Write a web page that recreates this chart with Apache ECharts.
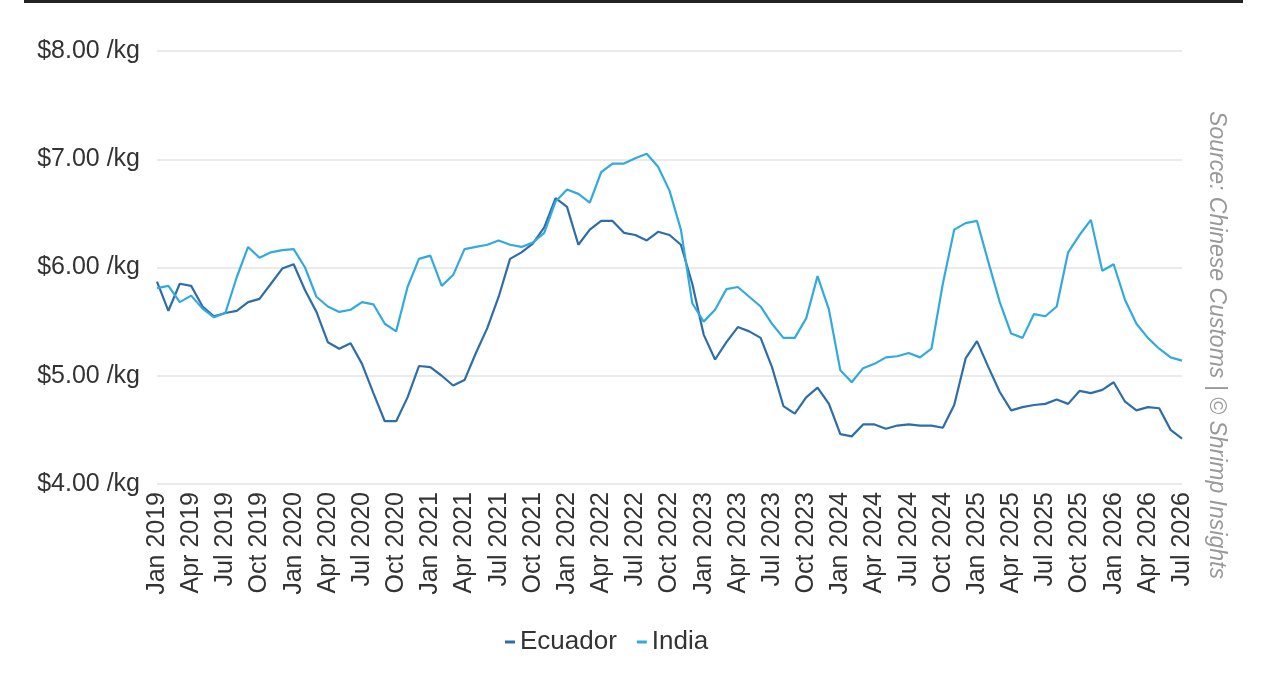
<!DOCTYPE html>
<html>
<head>
<meta charset="utf-8">
<script src="https://cdn.jsdelivr.net/npm/echarts@6/dist/echarts.min.js"></script>
<style>
  html, body { margin: 0; padding: 0; background: #fff; }
  #chart { width: 1262px; height: 682px; }
</style>
</head>
<body>
<div id="chart"></div>
<script>
// month labels Jan 2019 .. Jul 2026
var monthNames = ["Jan", "Feb", "Mar", "Apr", "May", "Jun", "Jul", "Aug", "Sep", "Oct", "Nov", "Dec"];
var categories = [];
for (var y = 2019; y <= 2026; y++) {
  for (var m = 0; m < 12; m++) {
    if (y === 2026 && m > 6) break;
    categories.push(monthNames[m] + " " + y);
  }
}

// price per kg
var ecuador = [
  5.87, 5.60, 5.85, 5.83, 5.64, 5.55, 5.58, 5.60, 5.68, 5.71, 5.85, 5.99,
  6.03, 5.79, 5.59, 5.31, 5.25, 5.30, 5.11, 4.84, 4.58, 4.58, 4.80, 5.09,
  5.08, 5.00, 4.91, 4.96, 5.21, 5.44, 5.73, 6.08, 6.14, 6.22, 6.37, 6.64,
  6.56, 6.21, 6.35, 6.43, 6.43, 6.32, 6.30, 6.25, 6.33, 6.30, 6.21, 5.85,
  5.38, 5.15, 5.31, 5.45, 5.41, 5.35, 5.08, 4.72, 4.65, 4.80, 4.89, 4.74,
  4.46, 4.44, 4.55, 4.55, 4.51, 4.54, 4.55, 4.54, 4.54, 4.52, 4.73, 5.16,
  5.32, 5.08, 4.85, 4.68, 4.71, 4.73, 4.74, 4.78, 4.74, 4.86, 4.84, 4.87,
  4.94, 4.76, 4.68, 4.71, 4.70, 4.50, 4.42
];

var india = [
  5.81, 5.83, 5.68, 5.74, 5.62, 5.54, 5.58, 5.91, 6.19, 6.09, 6.14, 6.16,
  6.17, 6.00, 5.73, 5.64, 5.59, 5.61, 5.68, 5.66, 5.48, 5.41, 5.82, 6.08,
  6.11, 5.83, 5.93, 6.17, 6.19, 6.21, 6.25, 6.21, 6.19, 6.23, 6.32, 6.61,
  6.72, 6.68, 6.60, 6.88, 6.96, 6.96, 7.01, 7.05, 6.93, 6.71, 6.35, 5.67,
  5.50, 5.61, 5.80, 5.82, 5.73, 5.64, 5.48, 5.35, 5.35, 5.53, 5.92, 5.61,
  5.05, 4.94, 5.07, 5.11, 5.17, 5.18, 5.21, 5.17, 5.25, 5.85, 6.35, 6.41,
  6.43, 6.05, 5.68, 5.39, 5.35, 5.57, 5.55, 5.64, 6.14, 6.30, 6.44, 5.97,
  6.03, 5.70, 5.48, 5.35, 5.25, 5.17, 5.14
];

var yTicks = [4, 5, 6, 7, 8];

var font = "'Liberation Sans', Arial, sans-serif";
var chart = echarts.init(document.getElementById("chart"));

var option = {
  animation: false,
  color: ["#2d6ea9", "#33aadd"],
  textStyle: { fontFamily: font },
  grid: { left: 157, right: 80, top: 51, bottom: 198 },
  legend: {
    top: 624,
    left: 500,
    icon: "rect",
    itemWidth: 10,
    itemHeight: 3,
    itemGap: 20,
    textStyle: { fontSize: 26, color: "#333", fontFamily: font },
    data: ["Ecuador", "India"]
  },
  xAxis: {
    type: "category",
    boundaryGap: false,
    data: categories,
    axisLine: { show: false },
    axisTick: { show: false },
    axisLabel: {
      rotate: 90,
      margin: 8,
      fontSize: 25,
      color: "#333",
      interval: function (i) { return i % 3 === 0; }
    }
  },
  yAxis: {
    type: "value",
    min: yTicks[0],
    max: yTicks[yTicks.length - 1],
    interval: 1,
    axisLine: { show: false },
    axisTick: { show: false },
    splitLine: { lineStyle: { color: "#e3e3e3", width: 1.5 } },
    axisLabel: {
      margin: 17,
      fontSize: 25,
      color: "#333",
      formatter: function (v) { return "$" + v.toFixed(2) + " /kg"; }
    }
  },
  series: [
    {
      name: "Ecuador",
      type: "line",
      data: ecuador,
      showSymbol: false,
      lineStyle: { width: 2.2 }
    },
    {
      name: "India",
      type: "line",
      data: india,
      showSymbol: false,
      lineStyle: { width: 2.2 }
    }
  ],
  graphic: [
    {
      type: "rect",
      shape: { x: 24, y: 0, width: 1219, height: 3 },
      style: { fill: "#222" }
    },
    {
      type: "text",
      x: 1216,
      y: 345,
      rotation: -Math.PI / 2,
      style: {
        text: "Source: Chinese Customs | \u00a9 Shrimp Insights",
        fill: "#999",
        font: "italic 23px " + font,
        align: "center",
        verticalAlign: "middle"
      }
    }
  ]
};

chart.setOption(option);
</script>
</body>
</html>
